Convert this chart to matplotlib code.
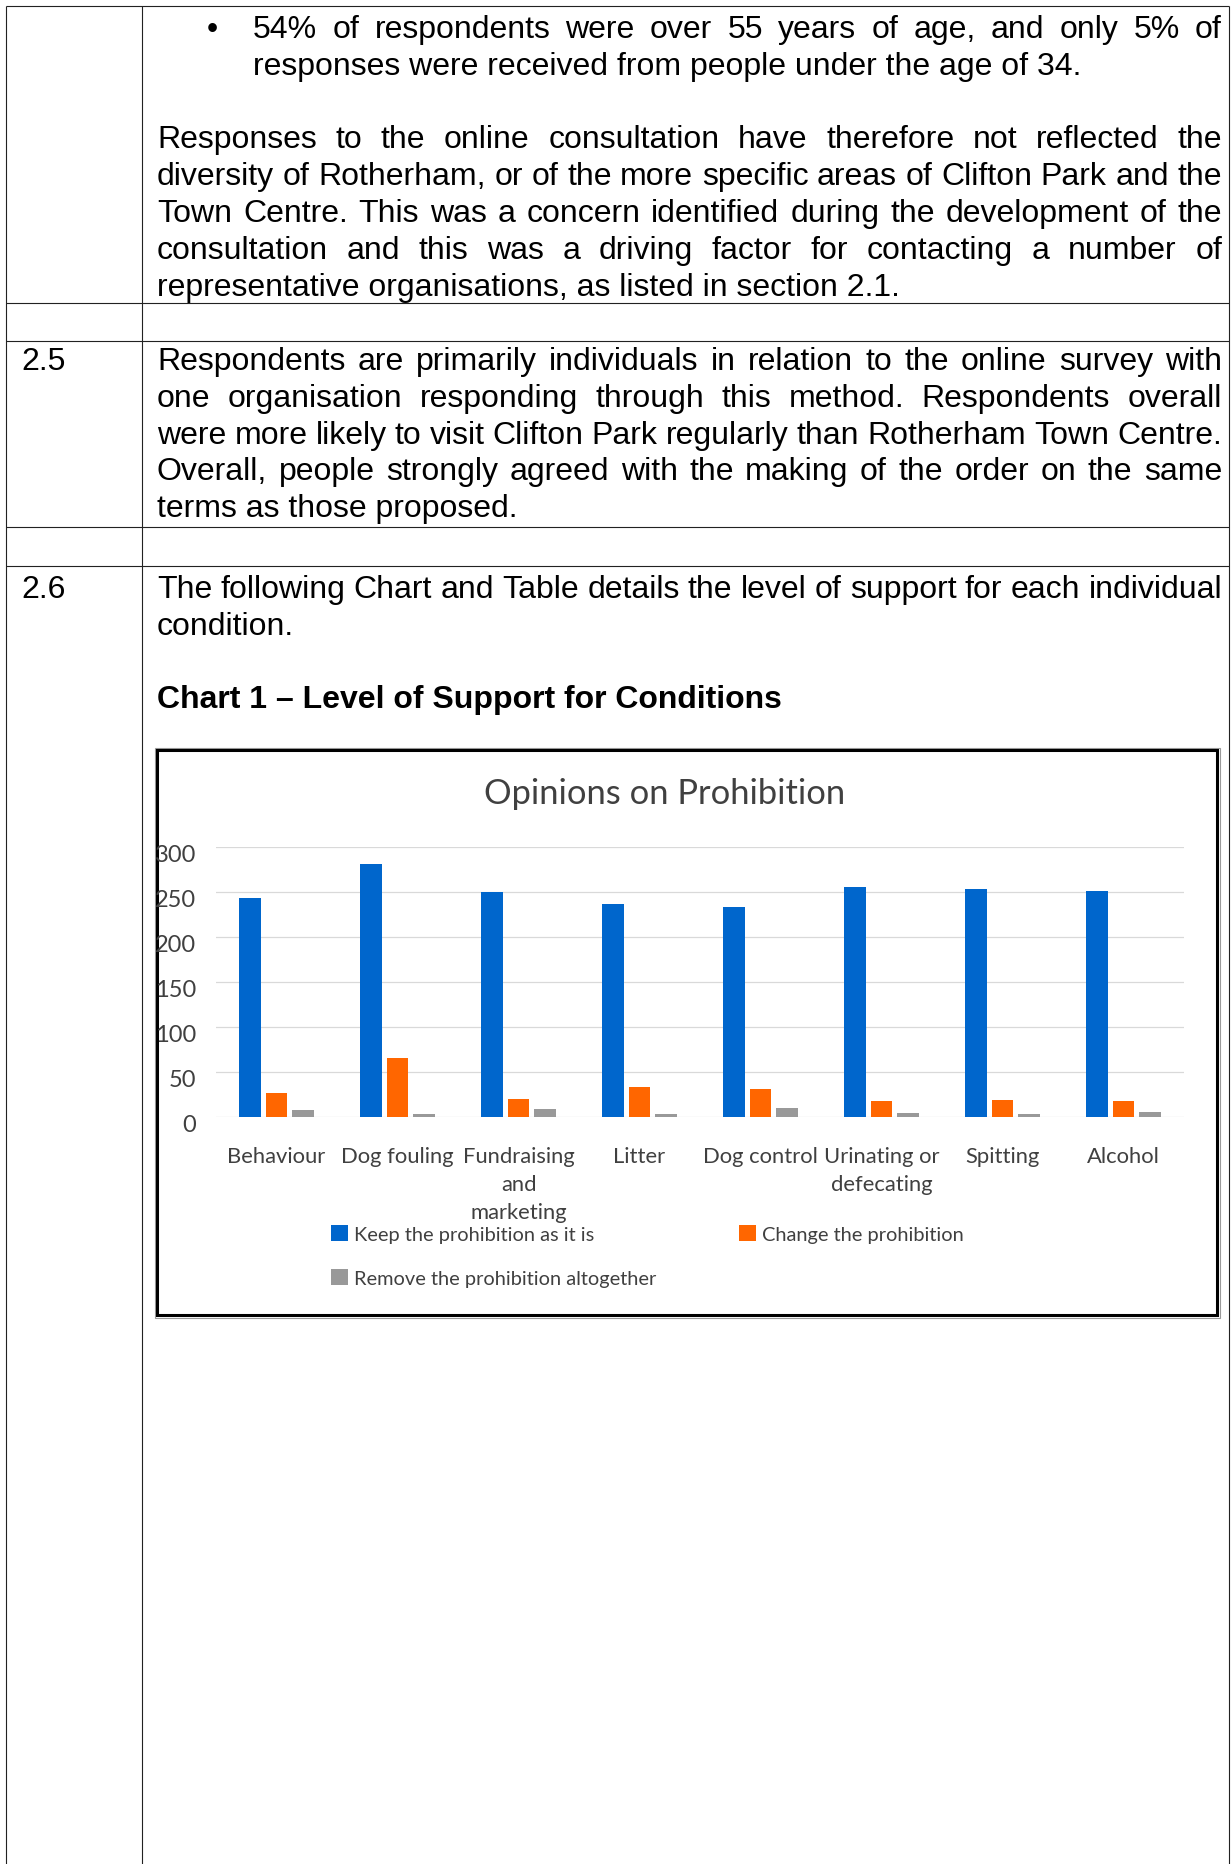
import matplotlib
matplotlib.use('Agg')
import matplotlib.pyplot as plt
import matplotlib.transforms as mtransforms
from matplotlib.patches import Rectangle
import numpy as np

# 页面尺寸（像素）
W, H = 1232, 1865
DPI = 100

# 图表数据
categories = ['Behaviour', 'Dog fouling', 'Fundraising\nand\nmarketing', 'Litter',
              'Dog control', 'Urinating or\ndefecating', 'Spitting', 'Alcohol']
keep = [244, 281, 250, 237, 234, 256, 254, 251]
change = [27, 66, 20, 34, 31, 18, 19, 18]
remove = [8, 4, 9, 4, 10, 5, 4, 6]
series_names = ['Keep the prohibition as it is', 'Change the prohibition',
                'Remove the prohibition altogether']
series_colors = ['#0066CC', '#FF6600', '#999999']
y_ticks = [0, 50, 100, 150, 200, 250, 300]
chart_title = 'Opinions on Prohibition'

# 文档文字（每行按原文换行）
bullet_lines = ['54% of respondents were over 55 years of age, and only 5% of',
                'responses were received from people under the age of 34.']
para_lines = ['Responses to the online consultation have therefore not reflected the',
              'diversity of Rotherham, or of the more specific areas of Clifton Park and the',
              'Town Centre. This was a concern identified during the development of the',
              'consultation and this was a driving factor for contacting a number of',
              'representative organisations, as listed in section 2.1.']
lines_25 = ['Respondents are primarily individuals in relation to the online survey with',
            'one organisation responding through this method. Respondents overall',
            'were more likely to visit Clifton Park regularly than Rotherham Town Centre.',
            'Overall, people strongly agreed with the making of the order on the same',
            'terms as those proposed.']
lines_26 = ['The following Chart and Table details the level of support for each individual',
            'condition.']
heading = 'Chart 1 \u2013 Level of Support for Conditions'

fig = plt.figure(figsize=(W / DPI, H / DPI), dpi=DPI, facecolor='white')
page = fig.add_axes([0, 0, 1, 1])
page.set_xlim(0, W)
page.set_ylim(H, 0)
page.axis('off')
renderer = fig.canvas.get_renderer()

body = dict(fontsize=23, family='Liberation Sans', va='baseline', ha='left', color='black')
step = 36.8
x_left, x_right = 157, 1222


def put_line(text, x0, y, justify, **kw):
    if not justify:
        page.text(x0, y, text, **kw)
        return
    words = text.split(' ')
    items = [page.text(0, y, w, **kw) for w in words]
    widths = [t.get_window_extent(renderer).width for t in items]
    gap = (x_right - x0 - sum(widths)) / (len(words) - 1)
    x = x0
    for t, w in zip(items, widths):
        t.set_x(x)
        x += w + gap


def put_para(lines, x0, y0, **kw):
    for i, line in enumerate(lines):
        put_line(line, x0, y0 + i * step, i < len(lines) - 1, **kw)


# 表格线
line_kw = dict(color='#222222', lw=0.8, solid_capstyle='butt')
for xv in [6, 142, 1229]:
    page.plot([xv, xv], [7, H], **line_kw)
for yv in [7, 304, 342, 528, 567]:
    page.plot([6, 1229], [yv, yv], **line_kw)

# 第一行
b0 = 38
page.text(212, b0, '\u2022', **{**body, 'ha': 'center'})
put_para(bullet_lines, 253, b0, **body)
put_para(para_lines, x_left, b0 + 3 * step, **body)

# 2.5
page.text(21, 370, '2.5', **body)
put_para(lines_25, x_left, 370, **body)

# 2.6
page.text(21, 598, '2.6', **body)
put_para(lines_26, x_left, 598, **body)
page.text(x_left, 598 + 3 * step, heading, **{**body, 'fontweight': 'bold'})

# 图表外框
page.add_patch(Rectangle((155, 749), 1065, 570, fill=False, ec='#9a9a9a', lw=0.8))
page.add_patch(Rectangle((157, 751), 1060, 565, fill=False, ec='black', lw=2.2))

# 柱状图
ax = fig.add_axes([216 / W, 1 - 1118.3 / H, 968 / W, 270 / H])
x = np.arange(len(categories))
bw, off = 0.18, 0.219
bars = []
for i, (vals, c) in enumerate(zip([keep, change, remove], series_colors)):
    bars.append(ax.bar(x + (i - 1) * off, vals, bw, color=c, label=series_names[i], zorder=3))
ax.set_xlim(-0.5, len(categories) - 0.5)
ax.set_ylim(0, 300)
ax.set_yticks(y_ticks)
ax.grid(axis='y', color='#D9D9D9', lw=0.9, zorder=0)
for s in ax.spines.values():
    s.set_visible(False)
ax.tick_params(length=0)
ax.tick_params(axis='y', pad=14.5, labelsize=17, labelcolor='#404040')
ax.set_xticks(x, categories, fontsize=15.8, color='#404040', family='Lato', linespacing=1.5)
ax.tick_params(axis='x', pad=21)
for lab in ax.get_yticklabels():
    lab.set_family('Lato')
    lab.set_transform(lab.get_transform() + mtransforms.ScaledTranslation(0, -4 / 72, fig.dpi_scale_trans))
ax.set_title(chart_title, fontsize=24.8, color='#404040', family='Lato', pad=31.7, x=0.463)

# 图例（按行排列）
leg_fs = 14.4
probe = page.text(0, 0, series_names[2], fontsize=leg_fs, family='Lato')
remove_w = probe.get_window_extent(renderer).width
probe.remove()
fs_px = leg_fs * DPI / 72
colsp = (739 - 331 - 17 - 6 - remove_w) / fs_px
fig.legend(handles=[bars[0], bars[2], bars[1]],
           labels=[series_names[0], series_names[2], series_names[1]],
           ncol=2, loc='upper left', bbox_to_anchor=(331 / W, 1 - 1226 / H),
           frameon=False, prop={'family': 'Lato', 'size': leg_fs}, labelcolor='#404040',
           handlelength=17 / fs_px, handleheight=17 / fs_px, handletextpad=6 / fs_px,
           columnspacing=colsp, labelspacing=1.3, borderpad=0, borderaxespad=0)

fig.savefig('out.png', dpi=DPI, facecolor='white')
